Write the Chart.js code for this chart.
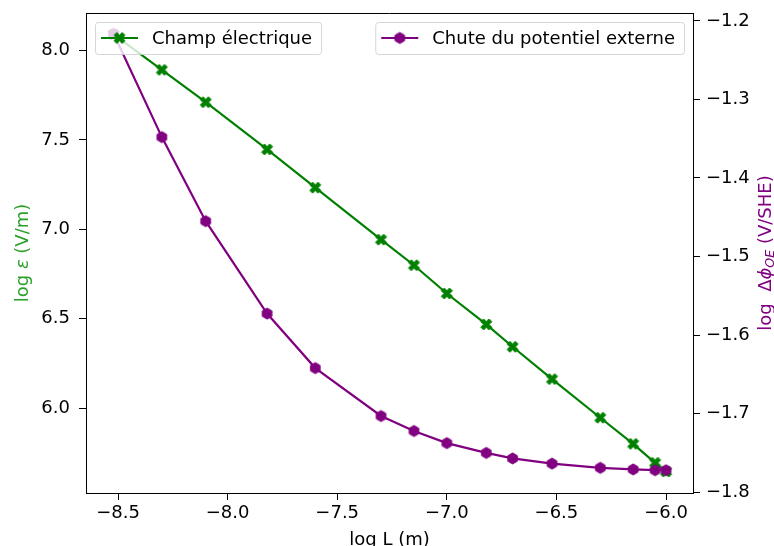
<!DOCTYPE html>
<html>
<head>
<meta charset="utf-8">
<script src="https://cdn.jsdelivr.net/npm/chart.js@4"></script>
<style>
	body{ margin:0; background:#fff; }
	#wrap{ width:774px; height:546px; }
</style>
</head>
<body>
<div id="wrap"><canvas id="grafChamp" width="774" height="546"></canvas></div>
<script>
/*======== DONNEES =============*/
const logL = [-8.52, -8.3, -8.1, -7.82, -7.6, -7.3, -7.15, -7.0, -6.82, -6.7, -6.52, -6.3, -6.15, -6.05, -6.0];
const champ = [8.09, 7.892, 7.711, 7.447, 7.233, 6.942, 6.799, 6.641, 6.468, 6.343, 6.162, 5.946, 5.800, 5.694, 5.645];
const potentiel = [-1.2165, -1.348, -1.455, -1.5726, -1.642, -1.703, -1.722, -1.7375, -1.750, -1.757, -1.7636, -1.769, -1.771, -1.772, -1.772];

const xTicks = [-8.5, -8.0, -7.5, -7.0, -6.5, -6.0];
const yTicks = [6.0, 6.5, 7.0, 7.5, 8.0];
const y1Ticks = [-1.8, -1.7, -1.6, -1.5, -1.4, -1.3, -1.2];

const labelChamp = 'Champ électrique';
const labelPot = 'Chute du potentiel externe';

const FONT = '"DejaVu Sans", sans-serif';
const FS = 18;

Chart.defaults.font.family = FONT;
Chart.defaults.font.size = FS;
Chart.defaults.color = '#000';

/*======== MARQUEURS =============*/
function markerX(color, size){
	const c = document.createElement('canvas');
	c.width = size + 4; c.height = size + 4;
	const ctx = c.getContext('2d');
	const pts = [[-1,-2],[0,-1],[1,-2],[2,-1],[1,0],[2,1],[1,2],[0,1],[-1,2],[-2,1],[-1,0],[-2,-1]];
	ctx.translate(c.width/2, c.height/2);
	ctx.beginPath();
	pts.forEach((p, i) => {
		const px = p[0]/4*size, py = p[1]/4*size;
		if(i == 0) ctx.moveTo(px, py); else ctx.lineTo(px, py);
	});
	ctx.closePath();
	ctx.fillStyle = color; ctx.fill();
	ctx.strokeStyle = color; ctx.lineWidth = 1; ctx.stroke();
	return c;
}
function markerHex(color, size){
	const c = document.createElement('canvas');
	c.width = size + 4; c.height = size + 4;
	const ctx = c.getContext('2d');
	const r = size/2;
	ctx.translate(c.width/2, c.height/2);
	ctx.beginPath();
	for(let k = 0; k < 6; k++){
		const a = -Math.PI/2 + k*Math.PI/3;
		if(k == 0) ctx.moveTo(r*Math.cos(a), r*Math.sin(a)); else ctx.lineTo(r*Math.cos(a), r*Math.sin(a));
	}
	ctx.closePath();
	ctx.fillStyle = color; ctx.fill();
	ctx.strokeStyle = color; ctx.lineWidth = 1; ctx.stroke();
	return c;
}
const mkVert = markerX('green', 11);
const mkViolet = markerHex('purple', 11);

const fmt = v => Number(v).toFixed(1).replace('-', '\u2212');

/*======== LEGENDES + TITRES =============*/
function legendBox(ctx, left, top, h, label, color, img){
	ctx.font = FS + 'px ' + FONT;
	const tw = ctx.measureText(label).width;
	const w = 57 + tw + 9;
	ctx.save();
	ctx.beginPath();
	ctx.roundRect(left + 0.5, top + 0.5, w, h, 3);
	ctx.fillStyle = 'rgba(255,255,255,0.8)';
	ctx.fill();
	ctx.strokeStyle = 'rgba(204,204,204,0.8)';
	ctx.lineWidth = 1;
	ctx.stroke();
	const cy = top + h/2;
	ctx.beginPath();
	ctx.moveTo(left + 6, cy); ctx.lineTo(left + 43, cy);
	ctx.strokeStyle = color; ctx.lineWidth = 2.2; ctx.stroke();
	ctx.drawImage(img, left + 24.5 - img.width/2, cy - img.height/2);
	ctx.fillStyle = '#000';
	ctx.textBaseline = 'middle';
	ctx.fillText(label, left + 57, cy + 1);
	ctx.restore();
	return w;
}

function drawPieces(ctx, pieces){
	let total = 0;
	pieces.forEach(p => { ctx.font = p.font; total += ctx.measureText(p.t).width; });
	let x = -total/2;
	pieces.forEach(p => {
		ctx.font = p.font;
		ctx.fillText(p.t, x, p.dy || 0);
		x += ctx.measureText(p.t).width;
	});
}

const decor = {
	id: 'decor',
	afterDatasetsDraw(chart){
		const ctx = chart.ctx, a = chart.chartArea;
		// cadre du haut
		ctx.save();
		ctx.strokeStyle = '#000'; ctx.lineWidth = 1;
		ctx.beginPath();
		ctx.moveTo(a.left, a.top + 0.5); ctx.lineTo(a.right, a.top + 0.5);
		ctx.stroke();
		ctx.restore();

		legendBox(ctx, 95, 22, 32, labelChamp, 'green', mkVert);
		ctx.font = FS + 'px ' + FONT;
		const w2 = 57 + ctx.measureText(labelPot).width + 9;
		legendBox(ctx, 684 - w2, 22, 32, labelPot, 'purple', mkViolet);
	},
	afterDraw(chart){
		const ctx = chart.ctx, a = chart.chartArea;
		const cy = (a.top + a.bottom)/2;
		ctx.save();
		ctx.textBaseline = 'alphabetic';
		ctx.fillStyle = '#000';
		ctx.font = FS + 'px ' + FONT;
		ctx.textAlign = 'center';
		ctx.fillText('log L (m)', (a.left + a.right)/2, 545);
		ctx.restore();

		// axe gauche
		ctx.save();
		ctx.translate(28, cy);
		ctx.rotate(-Math.PI/2);
		ctx.fillStyle = '#2ca02c';
		ctx.textBaseline = 'alphabetic';
		drawPieces(ctx, [
			{t: 'log ', font: FS + 'px ' + FONT},
			{t: 'ε', font: 'italic ' + FS + 'px ' + FONT},
			{t: ' (V/m)', font: FS + 'px ' + FONT}
		]);
		ctx.restore();

		// axe droit
		ctx.save();
		ctx.translate(771, cy);
		ctx.rotate(-Math.PI/2);
		ctx.fillStyle = 'purple';
		ctx.textBaseline = 'alphabetic';
		drawPieces(ctx, [
			{t: 'log  Δ', font: FS + 'px ' + FONT},
			{t: 'ϕ', font: 'italic ' + FS + 'px ' + FONT},
			{t: 'OE', font: 'italic ' + (FS*0.7) + 'px ' + FONT, dy: 3},
			{t: ' (V/SHE)', font: FS + 'px ' + FONT}
		]);
		ctx.restore();
	}
};

/*======== GRAPHIQUE =============*/
function axe(pos, min, max, ticks, size, pad){
	return {
		type: 'linear',
		position: pos,
		min: min, max: max,
		afterBuildTicks: s => { s.ticks = ticks.map(v => ({value: v})); },
		afterFit: s => {
			if(pos == 'bottom') s.height = size; else s.width = size;
			s.paddingTop = 0; s.paddingBottom = 0; s.paddingLeft = 0; s.paddingRight = 0;
		},
		grid: {drawOnChartArea: false, drawTicks: true, tickLength: 7, color: '#000', lineWidth: 1},
		border: {display: true, color: '#000', width: 1},
		ticks: {padding: pad, color: '#000', font: {size: FS}, callback: fmt, maxRotation: 0, autoSkip: false}
	};
}

const grafCtx = document.getElementById('grafChamp').getContext('2d');
new Chart(grafCtx, {
	type: 'line',
	data: {
		datasets: [{
			label: labelChamp,
			data: logL.map((x, i) => ({x: x, y: champ[i]})),
			borderColor: 'green',
			backgroundColor: 'green',
			borderWidth: 2.2,
			pointStyle: mkVert,
			pointRadius: 6,
			tension: 0,
			yAxisID: 'y',
			order: 2
		},{
			label: labelPot,
			data: logL.map((x, i) => ({x: x, y: potentiel[i]})),
			borderColor: 'purple',
			backgroundColor: 'purple',
			borderWidth: 2.2,
			pointStyle: mkViolet,
			pointRadius: 6,
			tension: 0,
			yAxisID: 'y1',
			order: 1
		}]
	},
	options: {
		responsive: false,
		animation: false,
		layout: {padding: {top: 13, left: 0, right: 0, bottom: 0}},
		plugins: {legend: {display: false}, tooltip: {enabled: false}},
		scales: {
			x: axe('bottom', -8.646, -5.877, xTicks, 53, 3),
			y: axe('left', 5.525, 8.21, yTicks, 86, 9),
			y1: axe('right', -1.801, -1.19, y1Ticks, 81, 6)
		}
	},
	plugins: [decor]
});
</script>
</body>
</html>
